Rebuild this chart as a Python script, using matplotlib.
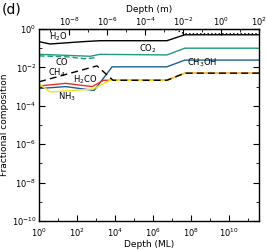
import numpy as np
import matplotlib.pyplot as plt
from matplotlib.ticker import FixedLocator, NullFormatter, LogFormatterMathtext

# Depth breakpoints (log10 of depth in monolayers) and log10 fractional composition
h2o_x = [0, 0.58, 2.3, 3.2, 6.74, 7.68, 11.6]
h2o_y = [-0.66, -0.78, -0.66, -0.61, -0.61, -0.30, -0.30]

total_x = [0, 7.16, 7.68, 11.6]
total_y = [-0.02, -0.02, -0.25, -0.25]

co2_x = [0, 2.7, 3.2, 6.74, 7.68, 11.6]
co2_y = [-1.32, -1.42, -1.32, -1.35, -1.0, -1.0]

co_x = [0, 1.5, 2.4, 2.95]
co_y = [-1.40, -1.45, -1.55, -1.50]

ch3oh_x = [0, 1.4, 2.9, 3.85, 6.74, 7.68, 11.6]
ch3oh_y = [-3.10, -3.0, -3.20, -1.97, -1.97, -1.62, -1.62]

h2co_x = [0, 1.4, 2.8, 3.4, 6.74, 7.68, 11.6]
h2co_y = [-2.97, -2.83, -3.0, -2.67, -2.67, -2.30, -2.30]

nh3_x = [0, 0.58, 2.84, 3.74, 6.74, 7.68, 11.6]
nh3_y = [-2.85, -3.28, -3.13, -2.67, -2.67, -2.30, -2.30]

ch4_x = [0, 3.05, 3.9, 6.74, 7.68, 11.6]
ch4_y = [-2.75, -1.92, -2.67, -2.67, -2.30, -2.30]

ML_TO_M = 2.55e-10

green = '#1f9c7c'
blue = '#1f5f8c'
red = '#e63027'
yellow = '#f2e21b'

def p(v):
    return 10 ** np.array(v)

plt.rcParams['font.family'] = 'DejaVu Sans'
plt.rcParams['font.size'] = 6

fig = plt.figure(figsize=(2.66, 2.5), dpi=100)
ax = fig.add_axes([0.147, 0.116, 0.827, 0.768])

ax.plot(p(total_x), p(total_y), color='k', ls=':', lw=1.0)
ax.plot(p(h2o_x), p(h2o_y), color='k', lw=1.0)
ax.plot(p(co2_x), p(co2_y), color=green, lw=1.0)
ax.plot(p(co_x), p(co_y), color=green, lw=1.0, ls=(0, (4, 2)))
ax.plot(p(ch3oh_x), p(ch3oh_y), color=blue, lw=1.0)
ax.plot(p(h2co_x), p(h2co_y), color=red, lw=1.0)
ax.plot(p(nh3_x), p(nh3_y), color=yellow, lw=1.0)
ax.plot(p(ch4_x), p(ch4_y), color='k', lw=1.0, ls=(0, (5, 3)))

ax.set_xscale('log')
ax.set_yscale('log')
ax.set_xlim(1, 10 ** 11.6)
ax.set_ylim(1e-10, 1)

ax.xaxis.set_major_locator(FixedLocator([10.0 ** k for k in range(0, 12, 2)]))
ax.xaxis.set_minor_locator(FixedLocator([10.0 ** k for k in range(1, 12, 2)]))
ax.xaxis.set_minor_formatter(NullFormatter())
ax.yaxis.set_major_locator(FixedLocator([10.0 ** k for k in range(-10, 1, 2)]))
ax.yaxis.set_minor_locator(FixedLocator([10.0 ** k for k in range(-9, 0, 2)]))
ax.yaxis.set_minor_formatter(NullFormatter())
ax.tick_params(which='both', direction='in', right=True, top=False, labelsize=6, pad=2)
ax.tick_params(axis='x', pad=4)
ax.tick_params(which='major', length=4)
ax.tick_params(which='minor', length=2)
for s in ax.spines.values():
    s.set_linewidth(1.0)

top = ax.secondary_xaxis('top', functions=(lambda x: x * ML_TO_M, lambda m: m / ML_TO_M))
top.xaxis.set_major_locator(FixedLocator([10.0 ** k for k in range(-8, 3, 2)]))
top.xaxis.set_minor_locator(FixedLocator([10.0 ** k for k in range(-9, 2, 2)]))
top.xaxis.set_major_formatter(LogFormatterMathtext())
top.xaxis.set_minor_formatter(NullFormatter())
top.tick_params(which='both', direction='in', labelsize=6, pad=1)
top.tick_params(which='major', length=4)
top.tick_params(which='minor', length=2)
top.set_xlabel('Depth (m)', fontsize=6.5, labelpad=2)

ax.set_xlabel('Depth (ML)', fontsize=6.5, labelpad=1)
ax.set_ylabel('Fractional composition', fontsize=6.5, labelpad=2)

ax.text(10 ** 1.0, 10 ** -0.42, 'H$_2$O', fontsize=6, ha='center', va='center')
ax.text(10 ** 5.74, 10 ** -1.04, 'CO$_2$', fontsize=6, ha='center', va='center')
ax.text(10 ** 1.21, 10 ** -1.72, 'CO', fontsize=6, ha='center', va='center')
ax.text(10 ** 0.95, 10 ** -2.29, 'CH$_4$', fontsize=6, ha='center', va='center')
ax.text(10 ** 2.42, 10 ** -2.66, 'H$_2$CO', fontsize=6, ha='center', va='center')
ax.text(10 ** 1.47, 10 ** -3.54, 'NH$_3$', fontsize=6, ha='center', va='center')
ax.text(10 ** 8.58, 10 ** -1.77, 'CH$_3$OH', fontsize=6, ha='center', va='center')

fig.text(0.005, 0.99, '(d)', fontsize=10, ha='left', va='top')

fig.savefig('out.png', dpi=100)
